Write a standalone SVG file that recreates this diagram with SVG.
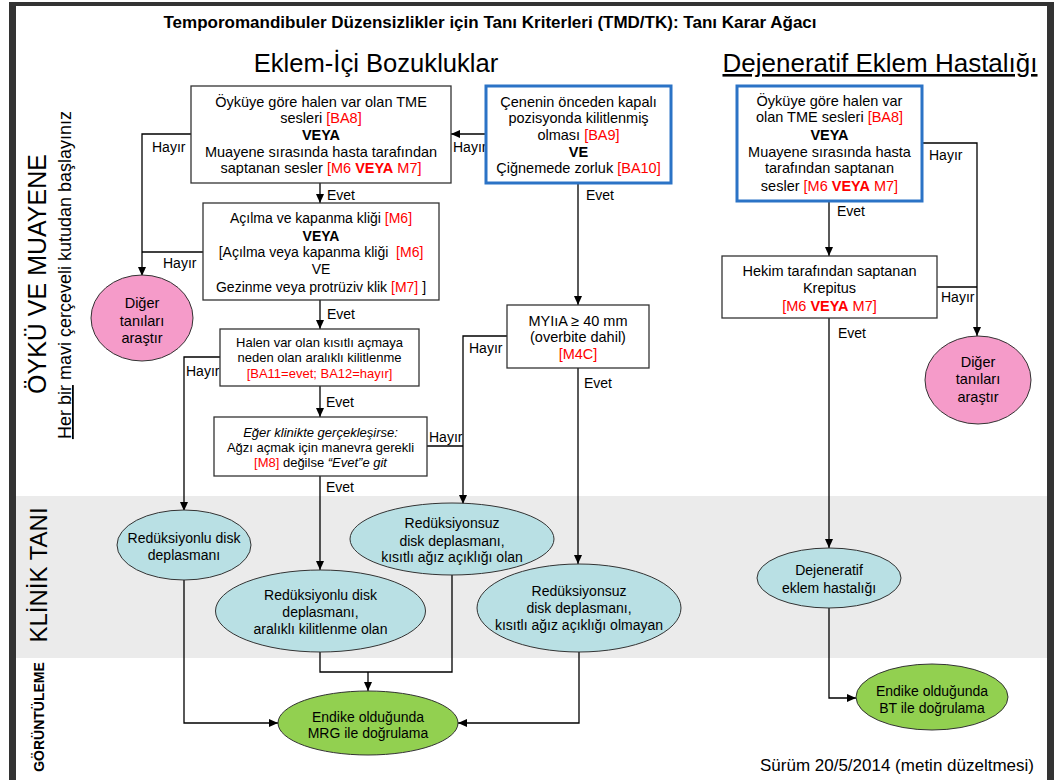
<svg xmlns="http://www.w3.org/2000/svg" width="1056" height="780" viewBox="0 0 1056 780">
<style>
text{font-family:"Liberation Sans",Arial,sans-serif;fill:#000}
.c{text-anchor:middle}
.f14{font-size:14.5px}
.f13{font-size:13px}
.f14b{font-size:14px}
.lab{font-size:14px}
.box{fill:#fff;stroke:#333;stroke-width:1.3}
.bbox{fill:#fff;stroke:#2b73c6;stroke-width:3}
.red{fill:#ff0000}
.b{font-weight:bold}
.i{font-style:italic}
.pink{fill:#f59bc9;stroke:#333;stroke-width:1}
.blue{fill:#b9e0e4;stroke:#333;stroke-width:1}
.green{fill:#92d050;stroke:#333;stroke-width:1}
.conn path{fill:none;stroke:#000;stroke-width:1.3}
.arr{marker-end:url(#ah)}
</style>
<defs>
<marker id="ah" markerUnits="userSpaceOnUse" markerWidth="10" markerHeight="8" refX="9" refY="4" orient="auto">
<path d="M0,0 L9,4 L0,8 z" fill="#000"/>
</marker>
</defs>
<rect x="0" y="0" width="1056" height="780" fill="#fff"/>
<rect x="16" y="496" width="1031" height="162" fill="#ebebeb"/>
<g id="frame" fill="#333">
<rect x="9" y="2" width="7" height="778"/>
<rect x="9" y="2" width="1045" height="4"/>
<rect x="1047" y="2" width="7" height="778"/>
</g>
<g id="titles">
<text x="490" y="28" class="c b" style="font-size:17px">Temporomandibuler Düzensizlikler için Tanı Kriterleri (TMD/TK): Tanı Karar Ağacı</text>
<text x="376" y="72" class="c" style="font-size:25.6px">Eklem-İçi Bozukluklar</text>
<text x="880" y="72" class="c" style="font-size:26px;text-decoration:underline">Dejeneratif Eklem Hastalığı</text>
<text transform="translate(46,274) rotate(-90)" class="c" style="font-size:25px">ÖYKÜ VE MUAYENE</text>
<text transform="translate(71,275) rotate(-90)" class="c" style="font-size:18px"><tspan style="text-decoration:underline">Her bir</tspan> mavi çerçeveli kutudan başlayınız</text>
<text transform="translate(47,575) rotate(-90)" class="c" style="font-size:24px">KLİNİK TANI</text>
<text transform="translate(44,717) rotate(-90)" class="c b" style="font-size:14px">GÖRÜNTÜLEME</text>
<text x="1034" y="771" style="font-size:17px;text-anchor:end">Sürüm 20/5/2014 (metin düzeltmesi)</text>
</g>
<g class="conn" id="connectors">
<path class="arr" d="M486,134 H451"/>
<path class="arr" d="M191,134 H142 V276"/>
<path d="M203,252 H142"/>
<path class="arr" d="M320,183 V203"/>
<path class="arr" d="M320,300 V329"/>
<path class="arr" d="M320,386 V417"/>
<path class="arr" d="M220,357 H184 V511"/>
<path d="M427,446 H463"/>
<path class="arr" d="M507,336 H463 V504"/>
<path class="arr" d="M320,476 V570"/>
<path class="arr" d="M578,183 V305"/>
<path class="arr" d="M578,368 V564"/>
<path class="arr" d="M184,580 V723 H278"/>
<path d="M320,652 V672 H452 V575"/>
<path class="arr" d="M368,672 V691"/>
<path class="arr" d="M579,652 V723 H458"/>
<path class="arr" d="M829,201 V256"/>
<path class="arr" d="M829,318 V548"/>
<path class="arr" d="M829,608 V698 H856"/>
<path class="arr" d="M922,143 H977 V336"/>
<path d="M937,287 H977"/>
<g id="labels">
<text x="453" y="152" class="lab">Hayır</text>
<text x="152" y="152" class="lab">Hayır</text>
<text x="327" y="200" class="lab">Evet</text>
<text x="163" y="268" class="lab">Hayır</text>
<text x="327" y="319" class="lab">Evet</text>
<text x="186" y="376" class="lab">Hayır</text>
<text x="326" y="407" class="lab">Evet</text>
<text x="429" y="442" class="lab">Hayır</text>
<text x="326" y="492" class="lab">Evet</text>
<text x="469" y="353" class="lab">Hayır</text>
<text x="584" y="388" class="lab">Evet</text>
<text x="586" y="200" class="lab">Evet</text>
<text x="929" y="160" class="lab">Hayır</text>
<text x="837" y="216" class="lab">Evet</text>
<text x="941" y="302" class="lab">Hayır</text>
<text x="838" y="338" class="lab">Evet</text>
</g>
</g>
<g id="box1">
<rect class="box" x="191" y="86" width="260" height="97"/>
<text class="c f14" x="321" y="107">Öyküye göre halen var olan TME</text>
<text class="c f14" x="321" y="123">sesleri <tspan class="red">[BA8]</tspan></text>
<text class="c f14 b" x="321" y="140">VEYA</text>
<text class="c f14" x="321" y="157">Muayene sırasında hasta tarafından</text>
<text class="c f14" x="321" y="173">saptanan sesler <tspan class="red">[M6 </tspan><tspan class="red b">VEYA</tspan><tspan class="red"> M7]</tspan></text>
</g>
<g id="box2">
<rect class="bbox" x="486" y="86" width="185" height="97"/>
<text class="c f14" x="578.5" y="107">Çenenin önceden kapalı</text>
<text class="c f14" x="578.5" y="123">pozisyonda kilitlenmiş</text>
<text class="c f14" x="578.5" y="140">olması <tspan class="red">[BA9]</tspan></text>
<text class="c f14 b" x="578.5" y="157">VE</text>
<text class="c f14" x="578.5" y="173">Çiğnemede zorluk <tspan class="red">[BA10]</tspan></text>
</g>
<g id="box3">
<rect class="box" x="203" y="203" width="236" height="97"/>
<text class="c f14b" x="321" y="223">Açılma ve kapanma kliği <tspan class="red">[M6]</tspan></text>
<text class="c f14b b" x="321" y="241">VEYA</text>
<text class="c f14b" x="321" y="257" style="white-space:pre">[Açılma veya kapanma kliği  <tspan class="red">[M6]</tspan></text>
<text class="c f14b" x="321" y="274">VE</text>
<text class="c f14b" x="321" y="292">Gezinme veya protrüziv klik <tspan class="red">[M7]</tspan> ]</text>
</g>
<g id="box4">
<rect class="box" x="220" y="329" width="199" height="57"/>
<text class="c f13" x="319.5" y="347">Halen var olan kısıtlı açmaya</text>
<text class="c f13" x="319.5" y="362">neden olan aralıklı kilitlenme</text>
<text class="c f13 red" x="319.5" y="378">[BA11=evet; BA12=hayır]</text>
</g>
<g id="box5">
<rect class="box" x="214" y="417" width="213" height="59"/>
<text class="c f13 i" x="320.5" y="437">Eğer klinikte gerçekleşirse:</text>
<text class="c f13" x="320.5" y="452">Ağzı açmak için manevra gerekli</text>
<text class="c f13" x="320.5" y="467"><tspan class="red">[M8]</tspan> değilse <tspan class="i">“Evet”e git</tspan></text>
</g>
<g id="box6">
<rect class="box" x="507" y="305" width="142" height="63"/>
<text class="c f14" x="578" y="326">MYIıA ≥ 40 mm</text>
<text class="c f14" x="578" y="342">(overbite dahil)</text>
<text class="c f14 red" x="578" y="359">[M4C]</text>
</g>
<g id="box7">
<rect class="bbox" x="737" y="86" width="185" height="115"/>
<text class="c f14" x="829.5" y="106">Öyküye göre halen var</text>
<text class="c f14" x="829.5" y="122">olan TME sesleri <tspan class="red">[BA8]</tspan></text>
<text class="c f14 b" x="829.5" y="140">VEYA</text>
<text class="c f14" x="829.5" y="157">Muayene sırasında hasta</text>
<text class="c f14" x="829.5" y="173">tarafından saptanan</text>
<text class="c f14" x="829.5" y="191">sesler <tspan class="red">[M6 </tspan><tspan class="red b">VEYA</tspan><tspan class="red"> M7]</tspan></text>
</g>
<g id="box8">
<rect class="box" x="722" y="256" width="215" height="62"/>
<text class="c f14" x="829.5" y="276">Hekim tarafından saptanan</text>
<text class="c f14" x="829.5" y="293">Krepitus</text>
<text class="c f14" x="829.5" y="311"><tspan class="red">[M6 </tspan><tspan class="red b">VEYA</tspan><tspan class="red"> M7]</tspan></text>
</g>
<g id="diger1">
<ellipse class="pink" cx="142" cy="318" rx="51" ry="43"/>
<text class="c f14" x="142" y="308">Diğer</text>
<text class="c f14" x="142" y="326">tanıları</text>
<text class="c f14" x="142" y="343">araştır</text>
</g>
<g id="diger2">
<ellipse class="pink" cx="978" cy="380" rx="53" ry="44"/>
<text class="c f14" x="978" y="367">Diğer</text>
<text class="c f14" x="978" y="384">tanıları</text>
<text class="c f14" x="978" y="402">araştır</text>
</g>
<g id="ellA">
<ellipse class="blue" cx="184" cy="545" rx="67" ry="35"/>
<text class="c f14b" x="184" y="543">Redüksiyonlu disk</text>
<text class="c f14b" x="184" y="560">deplasmanı</text>
</g>
<g id="ellB">
<ellipse class="blue" cx="320.5" cy="611" rx="105" ry="41"/>
<text class="c f14b" x="320.5" y="600">Redüksiyonlu disk</text>
<text class="c f14b" x="320.5" y="617">deplasmanı,</text>
<text class="c f14b" x="320.5" y="634">aralıklı kilitlenme olan</text>
</g>
<g id="ellC">
<ellipse class="blue" cx="452" cy="539" rx="102" ry="36"/>
<text class="c f14b" x="452" y="528">Redüksiyonsuz</text>
<text class="c f14b" x="452" y="546">disk deplasmanı,</text>
<text class="c f14b" x="452" y="562">kısıtlı ağız açıklığı olan</text>
</g>
<g id="ellD">
<ellipse class="blue" cx="579" cy="608" rx="102" ry="44"/>
<text class="c f14b" x="579" y="596">Redüksiyonsuz</text>
<text class="c f14b" x="579" y="613">disk deplasmanı,</text>
<text class="c f14b" x="579" y="630">kısıtlı ağız açıklığı olmayan</text>
</g>
<g id="ellDej">
<ellipse class="blue" cx="829" cy="578" rx="72" ry="30"/>
<text class="c f14b" x="829" y="575">Dejeneratif</text>
<text class="c f14b" x="829" y="593">eklem hastalığı</text>
</g>
<g id="mrg">
<ellipse class="green" cx="368" cy="723" rx="90" ry="32"/>
<text class="c f14b" x="368" y="722">Endike olduğunda</text>
<text class="c f14b" x="368" y="738">MRG ile doğrulama</text>
</g>
<g id="bt">
<ellipse class="green" cx="932" cy="697" rx="76" ry="33"/>
<text class="c f14b" x="932" y="696">Endike olduğunda</text>
<text class="c f14b" x="932" y="713">BT ile doğrulama</text>
</g>
</svg>
